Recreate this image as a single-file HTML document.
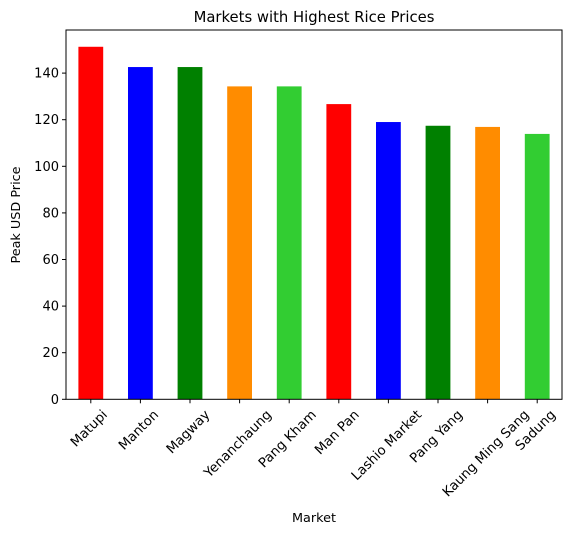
<!DOCTYPE html>
<html><head><meta charset="utf-8"><style>
body{margin:0;background:#fff}
svg text{font-family:"DejaVu Sans","Liberation Sans",sans-serif;fill:#000}
</style></head><body>
<svg id="chart" width="571" height="534" xmlns="http://www.w3.org/2000/svg">
<text x="314" y="22" font-size="14.8" text-anchor="middle">Markets with Highest Rice Prices</text>
<g id="bars"></g>
<g id="yticks"></g>
<g id="xticks"></g>
<rect x="66" y="30" width="496" height="369.3" fill="none" stroke="#000" stroke-width="1"/>
<text transform="translate(20,215) rotate(-90)" font-size="12.8" text-anchor="middle">Peak USD Price</text>
<text x="314" y="522" font-size="12.8" text-anchor="middle">Market</text>
</svg>
<script>
const categories=["Matupi","Manton","Magway","Yenanchaung","Pang Kham","Man Pan","Lashio Market","Pang Yang","Kaung Ming Sang","Sadung"];
const values=[151.3,142.6,142.6,134.3,134.3,126.7,119.0,117.4,116.9,113.9];
const colors=["#ff0000","#0000ff","#008000","#ff8c00","#32cd32","#ff0000","#0000ff","#008000","#ff8c00","#32cd32"];
const yTicks=[0,20,40,60,80,100,120,140];
const NS="http://www.w3.org/2000/svg";
const L=66,R=562,T=30,B=399.3,YMAX=158.5;
const step=(R-L)/categories.length;
const xc=i=>L+step*(i+0.5);
const y=v=>B-(v/YMAX)*(B-T);
const mk=(t,a,p)=>{const e=document.createElementNS(NS,t);for(const k in a)e.setAttribute(k,a[k]);p.appendChild(e);return e;};
const bars=document.getElementById('bars'),yt=document.getElementById('yticks'),xt=document.getElementById('xticks');
values.forEach((v,i)=>{
  const r=mk('rect',{x:xc(i)-step/4,y:y(v),width:step/2,height:B-y(v),fill:colors[i]},bars);
  
  
});
yTicks.forEach(t=>{
  const l=mk('line',{x1:L-4,x2:L,y1:y(t),y2:y(t),stroke:'#000'},yt);
  
  
  const tx=mk('text',{x:L-7,y:y(t)+4.5,'font-size':'13','text-anchor':'end'},yt);
  tx.textContent=t;
  
  
});
categories.forEach((c,i)=>{
  const x=xc(i);
  const l=mk('line',{x1:x,x2:x,y1:B,y2:B+4,stroke:'#000'},xt);
  
  
  const tx=mk('text',{'font-size':'13.3','text-anchor':'middle'},xt);
  tx.textContent=c;
  
  
  const w=tx.getComputedTextLength();
  const h=(w+14)*Math.SQRT1_2;
  const cy=B+8+h/2;
  tx.setAttribute('transform','translate('+(x-2)+','+cy+') rotate(-45)');
  tx.setAttribute('y','4.5');
});
</script>
</body></html>
